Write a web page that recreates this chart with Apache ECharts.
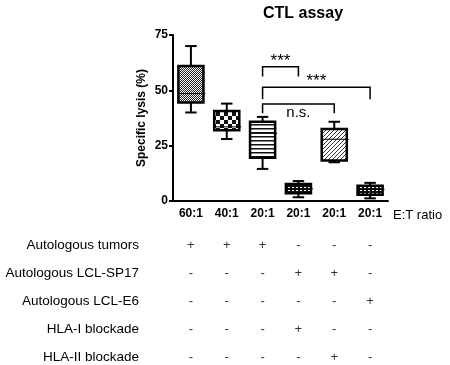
<!DOCTYPE html>
<html>
<head>
<meta charset="utf-8">
<script src="https://cdn.jsdelivr.net/npm/echarts@6/dist/echarts.min.js"></script>
<style>
  html, body { margin: 0; padding: 0; background: #fff; }
  #chart { width: 450px; height: 365px; }
</style>
</head>
<body>
<div id="chart"></div>
<script>
// E:T ratio categories
const ratios = ['60:1', '40:1', '20:1', '20:1', '20:1', '20:1']
// box stats per group: [min, q1, median, q3, max]
const boxStats = [
  [40, 44.5, 48.5, 61, 70],
  [28, 32, 33.5, 40.7, 44],
  [14.5, 19.5, 30.6, 35.8, 38],
  [1.7, 3.5, 5.5, 7.7, 9],
  [17.5, 18.3, 27.9, 32.5, 35.8],
  [1.2, 2.8, 5.3, 6.9, 8.2],
]
const yTicks = [0, 25, 50, 75]

// significance brackets
const bracketFrom  = [2, 2, 2]
const bracketTo    = [3, 5, 4]
const bracketTop   = [60.6, 51.4, 43.8]
const bracketLeg   = [56.2, 46, 39.7]
const bracketText  = ['***', '***', 'n.s.']
const bracketBelow = [false, false, true]

// condition table under the axis
const rowNames = ['Autologous tumors', 'Autologous LCL-SP17', 'Autologous LCL-E6', 'HLA-I blockade', 'HLA-II blockade']
const tumors  = ['+', '+', '+', '-', '-', '-']
const lclSp17 = ['-', '-', '-', '+', '+', '-']
const lclE6   = ['-', '-', '-', '-', '-', '+']
const hla1    = ['-', '-', '-', '+', '-', '-']
const hla2    = ['-', '-', '-', '-', '+', '-']
const tableRows = [tumors, lclSp17, lclE6, hla1, hla2]

const FONT = 'Liberation Sans, Arial, sans-serif'

function makePattern(w, h, draw) {
  const c = document.createElement('canvas')
  c.width = w; c.height = h
  const ctx = c.getContext('2d')
  draw(ctx)
  return { image: c, repeat: 'repeat' }
}
const dashes = ctx => { ctx.fillStyle = '#111'; ctx.fillRect(0, 0, 4, 3); ctx.fillStyle = '#fff'; ctx.fillRect(0, 1, 2, 1) }
const patterns = [
  makePattern(2, 2, ctx => { ctx.fillStyle = '#222'; ctx.fillRect(0, 0, 2, 2); ctx.fillStyle = '#fff'; ctx.fillRect(0, 0, 1, 1); ctx.fillRect(1, 1, 1, 1) }),
  makePattern(8, 8, ctx => { ctx.fillStyle = '#fff'; ctx.fillRect(0, 0, 8, 8); ctx.fillStyle = '#111'; ctx.fillRect(0, 0, 4, 4); ctx.fillRect(4, 4, 4, 4) }),
  makePattern(4, 4, ctx => { ctx.fillStyle = '#fff'; ctx.fillRect(0, 0, 4, 4); ctx.fillStyle = '#111'; ctx.fillRect(0, 0, 4, 1.5) }),
  makePattern(4, 3, dashes),
  makePattern(4, 4, ctx => {
    ctx.fillStyle = '#fff'; ctx.fillRect(0, 0, 4, 4)
    ctx.strokeStyle = '#333'; ctx.lineWidth = 1
    ctx.beginPath(); ctx.moveTo(0, 4); ctx.lineTo(4, 0); ctx.moveTo(-1, 1); ctx.lineTo(1, -1); ctx.moveTo(3, 5); ctx.lineTo(5, 3); ctx.stroke()
  }),
  makePattern(4, 3, dashes),
]

const boxData = boxStats.map((s, i) => [i, ...s])
const bracketData = bracketFrom.map((f, i) => [f, bracketTo[i], bracketTop[i], bracketLeg[i]])
const tableData = []
tableRows.forEach((row, r) => row.forEach((_, c) => tableData.push([c, r])))

const chart = echarts.init(document.getElementById('chart'))
chart.setOption({
  animation: false,
  title: {
    text: 'CTL assay', left: 258, top: 1,
    textStyle: { fontFamily: FONT, fontSize: 16, fontWeight: 'bold', color: '#000' },
  },
  grid: [
    { left: 173, right: 62, top: 35, bottom: 164, outerBoundsMode: 'none' },
    { left: 173, right: 62, top: 231, height: 140, outerBoundsMode: 'none' },
  ],
  xAxis: [
    {
      type: 'category', gridIndex: 0, data: ratios,
      name: 'E:T ratio', nameLocation: 'end', nameGap: 5,
      nameTextStyle: { fontFamily: FONT, fontSize: 13, color: '#000', verticalAlign: 'top', padding: [8, 0, 0, 0] },
      axisLine: { lineStyle: { color: '#000', width: 2 } },
      axisTick: { alignWithLabel: true, length: 4, lineStyle: { width: 2 } },
      axisLabel: { fontFamily: FONT, fontSize: 12, fontWeight: 'bold', color: '#000', margin: 7 },
    },
    { type: 'category', gridIndex: 1, data: ratios, show: false },
  ],
  yAxis: [
    {
      type: 'value', gridIndex: 0, min: 0, max: 75, interval: 25,
      name: 'Specific lysis (%)', nameLocation: 'middle', nameRotate: 90, nameGap: 25,
      nameTextStyle: { fontFamily: FONT, fontSize: 12, fontWeight: 'bold', color: '#000' },
      axisLine: { show: true, lineStyle: { color: '#000', width: 2 } },
      axisTick: { show: true, length: 4, lineStyle: { width: 2 } },
      axisLabel: { fontFamily: FONT, fontSize: 12, fontWeight: 'bold', color: '#000', margin: 5,
        formatter: v => yTicks.includes(v) ? String(v) : '' },
      splitLine: { show: false },
    },
    {
      type: 'category', gridIndex: 1, data: rowNames, inverse: true,
      axisLine: { show: false }, axisTick: { show: false },
      axisLabel: { fontFamily: FONT, fontSize: 13.5, color: '#000', margin: 34 },
    },
  ],
  series: [
    {
      type: 'custom', xAxisIndex: 0, yAxisIndex: 0,
      data: boxData,
      encode: { x: 0, y: [1, 2, 3, 4, 5] },
      renderItem(params, api) {
        const i = params.dataIndex
        const cat = api.value(0)
        const x = api.coord([cat, 0])[0]
        const band = api.size([1, 0])[0]
        const bw = band * 0.7, cw = band * 0.32
        const y = k => api.coord([cat, api.value(k)])[1]
        const yMin = y(1), yQ1 = y(2), yMed = y(3), yQ3 = y(4), yMax = y(5)
        const ls = { stroke: '#000', lineWidth: 2 }
        return {
          type: 'group',
          children: [
            { type: 'line', shape: { x1: x, y1: yMax, x2: x, y2: yQ3 }, style: ls },
            { type: 'line', shape: { x1: x - cw / 2, y1: yMax, x2: x + cw / 2, y2: yMax }, style: ls },
            { type: 'line', shape: { x1: x, y1: yQ1, x2: x, y2: yMin }, style: ls },
            { type: 'line', shape: { x1: x - cw / 2, y1: yMin, x2: x + cw / 2, y2: yMin }, style: ls },
            { type: 'rect', shape: { x: x - bw / 2, y: yQ3, width: bw, height: yQ1 - yQ3 },
              style: { fill: patterns[i], stroke: '#000', lineWidth: 2.5 } },
            { type: 'line', shape: { x1: x - bw / 2, y1: yMed, x2: x + bw / 2 + 2, y2: yMed },
              style: { stroke: '#000', lineWidth: 1 } },
          ],
        }
      },
    },
    {
      type: 'custom', xAxisIndex: 0, yAxisIndex: 0,
      data: bracketData,
      encode: { x: [0, 1], y: [2, 3] },
      renderItem(params, api) {
        const i = params.dataIndex
        const [x1, yT] = api.coord([api.value(0), api.value(2)])
        const x2 = api.coord([api.value(1), 0])[0]
        const yL = api.coord([0, api.value(3)])[1]
        const below = bracketBelow[i]
        return {
          type: 'group',
          children: [
            { type: 'polyline', shape: { points: [[x1, yL], [x1, yT], [x2, yT], [x2, yL]] },
              style: { stroke: '#000', lineWidth: 1.5, fill: null } },
            { type: 'text', x: (x1 + x2) / 2, y: below ? yT + 1 : yT + 3,
              style: { text: bracketText[i], fill: '#000', fontFamily: FONT,
                fontSize: below ? 15 : 17, align: 'center', verticalAlign: below ? 'top' : 'bottom' } },
          ],
        }
      },
    },
    {
      type: 'scatter', xAxisIndex: 1, yAxisIndex: 1,
      data: tableData, symbolSize: 0,
      label: {
        show: true, position: 'inside', fontFamily: FONT, fontSize: 13, color: '#000',
        formatter: p => tableRows[p.value[1]][p.value[0]],
      },
    },
  ],
})
</script>
</body>
</html>
